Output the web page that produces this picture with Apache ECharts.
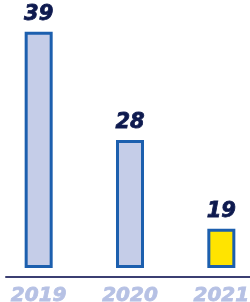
<!DOCTYPE html>
<html>
<head>
<meta charset="utf-8">
<script src="https://cdn.jsdelivr.net/npm/echarts@6/dist/echarts.min.js"></script>
<style>
  html, body { margin: 0; padding: 0; background: #fff; }
  #main { width: 250px; height: 302px; }
</style>
</head>
<body>
<div id="main"></div>
<script>
  // data
  var years = ['2019', '2020', '2021']
  var values = [39, 28, 19]
  var barColors = ['#c5cde8', '#c5cde8', '#ffe400']

  var myChart = echarts.init(document.getElementById('main'))

  var font = '"DejaVu Sans", sans-serif'

  var option = {
    animation: false,
    grid: [
      { left: -7, right: -17, top: 22, bottom: 34, outerBoundsMode: 'none' },
      { left: 6, right: 0, top: 276, bottom: 25, outerBoundsMode: 'none' }, // only for the base line
    ],
    xAxis: [
      {
        type: 'category',
        data: years,
        gridIndex: 0,
        axisLine: { show: false },
        axisTick: { show: false },
        axisLabel: {
          margin: 18,
          color: '#b6c1e4',
          fontFamily: font,
          fontSize: 20,
          fontWeight: 'bold',
          fontStyle: 'italic',
          textBorderColor: '#b6c1e4',
          textBorderWidth: 0.8,
        },
      },
      {
        type: 'category',
        data: years,
        gridIndex: 1,
        axisLine: { show: true, lineStyle: { color: '#3b3f72', width: 2 } },
        axisTick: { show: false },
        axisLabel: { show: false },
      },
    ],
    yAxis: [
      {
        type: 'value',
        gridIndex: 0,
        min: 15,
        max: 40,
        startValue: 15,
        show: false,
      },
      { type: 'value', gridIndex: 1, show: false },
    ],
    series: [
      {
        type: 'bar',
        xAxisIndex: 0,
        yAxisIndex: 0,
        barWidth: 28,
        clip: false,
        data: values.map(function (v, i) {
          return { value: v, itemStyle: { color: barColors[i] } }
        }),
        itemStyle: { borderColor: '#1c5fae', borderWidth: 3 },
        label: {
          show: true,
          position: 'top',
          distance: 7,
          color: '#0e1a4f',
          fontFamily: font,
          fontSize: 21,
          fontWeight: 'bold',
          fontStyle: 'italic',
          textBorderColor: '#0e1a4f',
          textBorderWidth: 0.8,
        },
      },
    ],
  }

  myChart.setOption(option)
</script>
</body>
</html>
